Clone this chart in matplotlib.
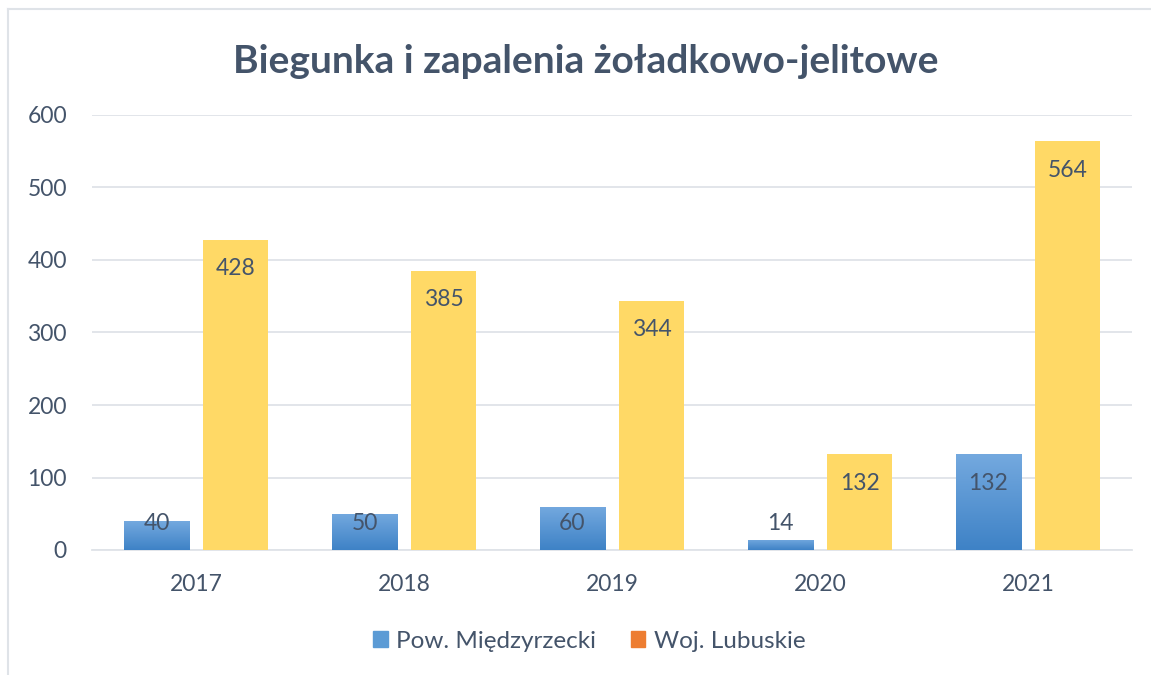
import numpy as np
import matplotlib.pyplot as plt
from matplotlib.patches import Rectangle
from matplotlib.lines import Line2D
from matplotlib.colors import LinearSegmentedColormap

years = ['2017', '2018', '2019', '2020', '2021']
pow_miedzyrzecki = [40, 50, 60, 14, 132]
woj_lubuskie = [428, 385, 344, 132, 564]

TEXT = '#44546A'
GRID = '#DFE3E8'

plt.rcParams['font.family'] = ['Lato', 'DejaVu Sans']

fig = plt.figure(figsize=(11.51, 6.75), dpi=100)
ax = fig.add_axes([92 / 1151, 125 / 675, 1040 / 1151, 435 / 675])

x = np.arange(len(years))
w = 0.317
off = 0.19

# blue bars with a vertical gradient
grad = np.linspace(0, 1, 256).reshape(-1, 1)
blue_cmap = LinearSegmentedColormap.from_list('b', ['#3E82C6', '#74A9DF'])
bars_b = ax.bar(x - off, pow_miedzyrzecki, w, color='none', zorder=3)
for b in bars_b:
    x0, y0 = b.get_x(), b.get_y()
    im = ax.imshow(grad, cmap=blue_cmap, origin='lower', aspect='auto',
                   extent=(x0, x0 + b.get_width(), y0, y0 + b.get_height()), zorder=3)
    im.set_clip_path(b)

bars_y = ax.bar(x + off, woj_lubuskie, w, color='#FFD966', zorder=3)

# data labels: inside end, kept above the baseline
for xi, v in zip(x - off, pow_miedzyrzecki):
    ax.text(xi, max(v - 40, 36), str(v), ha='center', va='center', fontsize=16.5, color=TEXT, zorder=4)
for xi, v in zip(x + off, woj_lubuskie):
    ax.text(xi, max(v - 40, 36), str(v), ha='center', va='center', fontsize=16.5, color=TEXT, zorder=4)

ax.set_xlim(-0.5, len(years) - 0.5)
ax.set_ylim(0, 600)
ax.set_yticks(range(0, 601, 100))
ax.set_xticks(x)
ax.set_xticklabels(years)
ax.grid(axis='y', color=GRID, linewidth=1.3, zorder=0)
ax.set_axisbelow(True)
for s in ['top', 'right', 'left']:
    ax.spines[s].set_visible(False)
ax.spines['bottom'].set_color(GRID)
ax.spines['bottom'].set_linewidth(1.3)
ax.tick_params(axis='both', length=0, labelsize=16.5, labelcolor=TEXT)
ax.tick_params(axis='y', pad=18)
ax.tick_params(axis='x', pad=17)

ax.set_title('Biegunka i zapalenia żoładkowo-jelitowe', fontsize=28, fontweight='bold',
             color=TEXT, x=0.4745, pad=30)

handles = [Rectangle((0, 0), 1, 1, color='#5B9BD5'), Rectangle((0, 0), 1, 1, color='#ED7D31')]
fig.legend(handles, ['Pow. Międzyrzecki', 'Woj. Lubuskie'], loc='center', bbox_to_anchor=(0.512, 0.05),
           ncol=2, frameon=False, fontsize=17.5, labelcolor=TEXT, handlelength=0.6, handleheight=0.6,
           handletextpad=0.35, columnspacing=1.4)

# outer chart frame (top and left edges visible)
fig.add_artist(Line2D([8 / 1151, 8 / 1151], [0, 1 - 9 / 675], color=GRID, lw=1.5))
fig.add_artist(Line2D([8 / 1151, 1], [1 - 9 / 675, 1 - 9 / 675], color=GRID, lw=1.5))

fig.savefig('out.png', dpi=100)
